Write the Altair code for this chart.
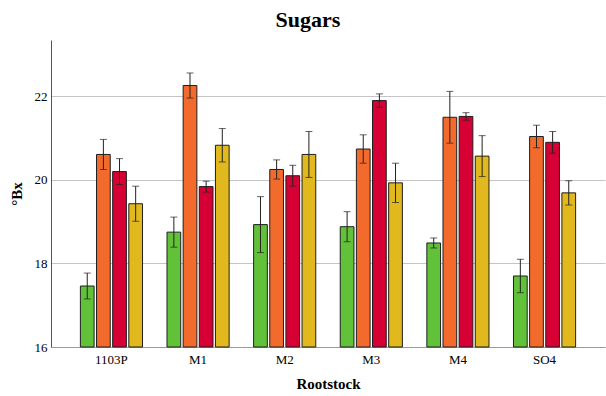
import altair as alt
import pandas as pd

rootstocks = ["1103P", "M1", "M2", "M3", "M4", "SO4"]
series = ["S1", "S2", "S3", "S4"]
colors = ["#61c23a", "#f26a2c", "#d70034", "#e1b91f"]

# mean values per series (one per rootstock)
s1_vals = [17.46, 18.75, 18.93, 18.88, 18.49, 17.70]
s2_vals = [20.61, 22.26, 20.25, 20.74, 21.50, 21.04]
s3_vals = [20.20, 19.84, 20.10, 21.90, 21.52, 20.90]
s4_vals = [19.43, 20.83, 20.61, 19.93, 20.57, 19.69]

# error half-widths
s1_err = [0.31, 0.36, 0.67, 0.36, 0.12, 0.40]
s2_err = [0.36, 0.30, 0.23, 0.34, 0.62, 0.27]
s3_err = [0.31, 0.13, 0.25, 0.16, 0.09, 0.26]
s4_err = [0.42, 0.40, 0.55, 0.47, 0.49, 0.29]

y_ticks = [16, 18, 20, 22]

vals = [s1_vals, s2_vals, s3_vals, s4_vals]
errs = [s1_err, s2_err, s3_err, s4_err]
rows = []
for si, name in enumerate(series):
    for ri, rs in enumerate(rootstocks):
        v = vals[si][ri]
        e = errs[si][ri]
        rows.append({"Rootstock": rs, "Series": name, "value": v,
                     "lower": v - e, "upper": v + e})
df = pd.DataFrame(rows)

serif = "Liberation Serif"
label_style = dict(labelFont=serif, labelFontSize=13, labelColor="black",
                   titleFont=serif, titleFontSize=15, titleFontWeight="bold",
                   titleColor="black")

x_enc = alt.X("Rootstock:N", sort=rootstocks,
              scale=alt.Scale(paddingInner=0.264, paddingOuter=0.33),
              axis=alt.Axis(title="Rootstock", labelAngle=0, ticks=False,
                            domainColor="#9a9a9a", labelPadding=6,
                            titlePadding=10, grid=False, **label_style))
xo_enc = alt.XOffset("Series:N", sort=series,
                     scale=alt.Scale(paddingInner=0.15, paddingOuter=0.05))
y_scale = alt.Scale(domain=[16, 23.35], zero=False, nice=False)

base = alt.Chart(df)

bars = base.mark_bar(stroke="#1e1e1e", strokeWidth=1).encode(
    x=x_enc,
    xOffset=xo_enc,
    y=alt.Y("value:Q", scale=y_scale,
            axis=alt.Axis(title="°Bx", values=y_ticks, ticks=False,
                          grid=True, gridColor="#c4c4c4", domainColor="#555555",
                          labelPadding=4, titlePadding=10, **label_style)),
    y2=alt.datum(16),
    color=alt.Color("Series:N", sort=series,
                    scale=alt.Scale(domain=series, range=colors), legend=None),
)

rules = base.mark_rule(color="#222222", strokeWidth=1).encode(
    x=x_enc, xOffset=xo_enc,
    y=alt.Y("lower:Q", scale=y_scale), y2="upper:Q",
)

cap_lo = base.mark_tick(color="#222222", thickness=1, size=7).encode(
    x=x_enc, xOffset=xo_enc, y=alt.Y("lower:Q", scale=y_scale),
)
cap_hi = base.mark_tick(color="#222222", thickness=1, size=7).encode(
    x=x_enc, xOffset=xo_enc, y=alt.Y("upper:Q", scale=y_scale),
)

chart = alt.layer(bars, rules, cap_lo, cap_hi).properties(
    width=554, height=307,
    title=alt.TitleParams("Sugars", font=serif, fontSize=22, fontWeight="bold",
                          color="black", anchor="middle", dx=-20, offset=8),
    autosize=alt.AutoSizeParams(type="none"),
    padding={"left": 51, "top": 40, "right": 1, "bottom": 49},
).configure_view(strokeOpacity=0)

chart.save("out.html", embed_options={"renderer": "svg", "actions": False})
